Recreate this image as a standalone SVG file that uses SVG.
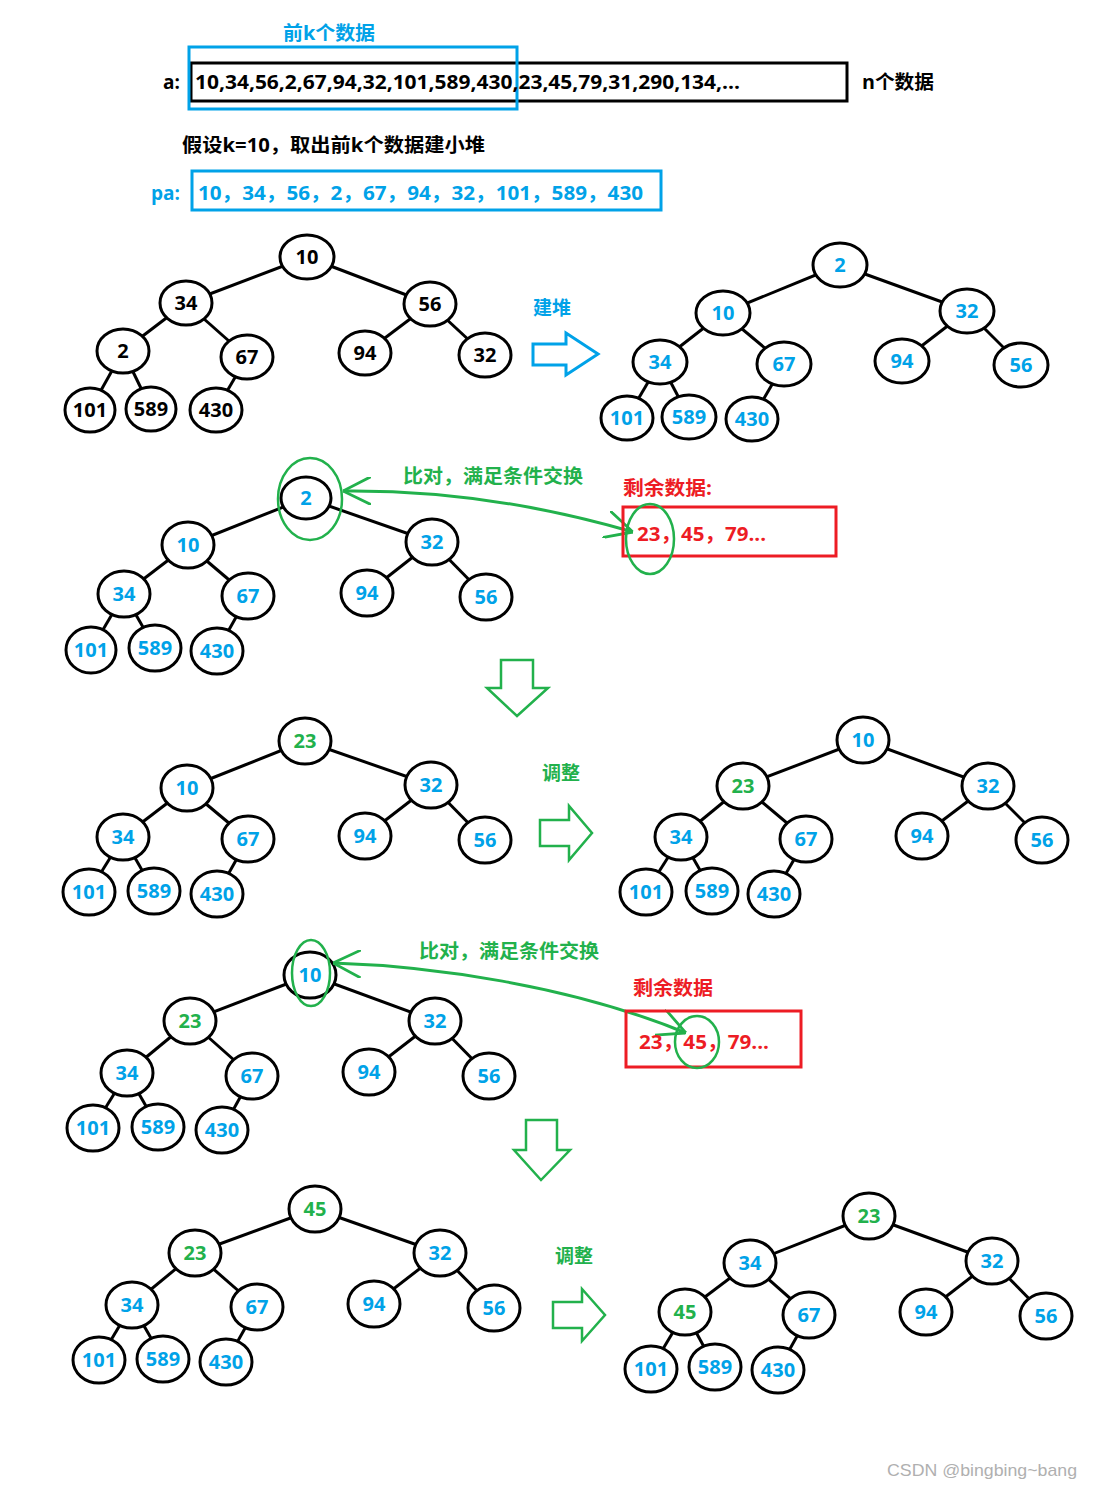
<svg xmlns="http://www.w3.org/2000/svg" width="1093" height="1489" viewBox="0 0 1093 1489">
<style>
text{font-family:"Open Sans","Noto Sans CJK SC",sans-serif;font-weight:bold}
.nd ellipse{fill:#fff;stroke:#000;stroke-width:3}
.nd text{font-size:20px;text-anchor:middle}
.k{fill:#000}.c{fill:#00A2E8}.g{fill:#22B14C}.r{fill:#ED1C24}
.edges line{stroke:#000;stroke-width:3}
.t19{font-size:19px}
.sel{fill:none;stroke:#22B14C;stroke-width:2.5}
.curve{fill:none;stroke:#22B14C;stroke-width:3;marker-start:url(#ah);marker-end:url(#ah)}
</style>
<defs>
<marker id="ah" viewBox="0 0 10 10" refX="10" refY="5" markerWidth="28" markerHeight="28" markerUnits="userSpaceOnUse" orient="auto-start-reverse">
<path d="M0,0 L10,5 L0,10" fill="none" stroke="#22B14C" stroke-width="1"/>
</marker>
</defs>
<rect width="1093" height="1489" fill="#fff"/>

<g id="header">
<text x="283" y="40" class="t19 c" textLength="92" lengthAdjust="spacingAndGlyphs">前k个数据</text>
<rect x="191" y="63" width="656" height="38" fill="none" stroke="#000" stroke-width="3"/>
<rect x="189" y="47" width="328" height="62" fill="none" stroke="#00A2E8" stroke-width="3"/>
<text x="163" y="89" class="t19 k">a:</text>
<text x="195" y="89" class="k" font-size="20" textLength="545" lengthAdjust="spacingAndGlyphs">10,34,56,2,67,94,32,101,589,430,23,45,79,31,290,134,...</text>
<text x="862" y="89" class="t19 k" textLength="72" lengthAdjust="spacingAndGlyphs">n个数据</text>
<text x="182" y="152" class="t19 k" textLength="303" lengthAdjust="spacingAndGlyphs">假设k=10，取出前k个数据建小堆</text>
<text x="151" y="200" class="t19 c">pa:</text>
<rect x="192" y="171" width="469" height="39" fill="none" stroke="#00A2E8" stroke-width="3"/>
<text x="198" y="200" class="c" font-size="20" textLength="445" lengthAdjust="spacingAndGlyphs">10，34，56，2，67，94，32，101，589，430</text>
</g>

<g id="connectors" class="edges">
<line x1="307" y1="257" x2="186" y2="303"/><line x1="307" y1="257" x2="430" y2="304"/><line x1="186" y1="303" x2="123" y2="351"/><line x1="186" y1="303" x2="247" y2="357"/><line x1="430" y1="304" x2="365" y2="353"/><line x1="430" y1="304" x2="485" y2="355"/><line x1="123" y1="351" x2="90" y2="410"/><line x1="123" y1="351" x2="151" y2="409"/><line x1="247" y1="357" x2="216" y2="410"/>
<line x1="840" y1="265" x2="723" y2="313"/><line x1="840" y1="265" x2="967" y2="311"/><line x1="723" y1="313" x2="660" y2="362"/><line x1="723" y1="313" x2="784" y2="364"/><line x1="967" y1="311" x2="902" y2="361"/><line x1="967" y1="311" x2="1021" y2="365"/><line x1="660" y1="362" x2="627" y2="418"/><line x1="660" y1="362" x2="689" y2="417"/><line x1="784" y1="364" x2="752" y2="419"/>
<line x1="306" y1="498" x2="188" y2="545"/><line x1="306" y1="498" x2="432" y2="542"/><line x1="188" y1="545" x2="124" y2="594"/><line x1="188" y1="545" x2="248" y2="596"/><line x1="432" y1="542" x2="367" y2="593"/><line x1="432" y1="542" x2="486" y2="597"/><line x1="124" y1="594" x2="91" y2="650"/><line x1="124" y1="594" x2="155" y2="648"/><line x1="248" y1="596" x2="217" y2="651"/>
<line x1="305" y1="741" x2="187" y2="788"/><line x1="305" y1="741" x2="431" y2="785"/><line x1="187" y1="788" x2="123" y2="837"/><line x1="187" y1="788" x2="248" y2="839"/><line x1="431" y1="785" x2="365" y2="836"/><line x1="431" y1="785" x2="485" y2="840"/><line x1="123" y1="837" x2="89" y2="892"/><line x1="123" y1="837" x2="154" y2="891"/><line x1="248" y1="839" x2="217" y2="894"/>
<line x1="863" y1="740" x2="743" y2="786"/><line x1="863" y1="740" x2="988" y2="786"/><line x1="743" y1="786" x2="681" y2="837"/><line x1="743" y1="786" x2="806" y2="839"/><line x1="988" y1="786" x2="922" y2="836"/><line x1="988" y1="786" x2="1042" y2="840"/><line x1="681" y1="837" x2="646" y2="892"/><line x1="681" y1="837" x2="712" y2="891"/><line x1="806" y1="839" x2="774" y2="894"/>
<line x1="310" y1="975" x2="190" y2="1021"/><line x1="310" y1="975" x2="435" y2="1021"/><line x1="190" y1="1021" x2="127" y2="1073"/><line x1="190" y1="1021" x2="252" y2="1076"/><line x1="435" y1="1021" x2="369" y2="1072"/><line x1="435" y1="1021" x2="489" y2="1076"/><line x1="127" y1="1073" x2="93" y2="1128"/><line x1="127" y1="1073" x2="158" y2="1127"/><line x1="252" y1="1076" x2="222" y2="1130"/>
<line x1="315" y1="1209" x2="195" y2="1253"/><line x1="315" y1="1209" x2="440" y2="1253"/><line x1="195" y1="1253" x2="132" y2="1305"/><line x1="195" y1="1253" x2="257" y2="1307"/><line x1="440" y1="1253" x2="374" y2="1304"/><line x1="440" y1="1253" x2="494" y2="1308"/><line x1="132" y1="1305" x2="99" y2="1360"/><line x1="132" y1="1305" x2="163" y2="1359"/><line x1="257" y1="1307" x2="226" y2="1362"/>
<line x1="869" y1="1216" x2="750" y2="1263"/><line x1="869" y1="1216" x2="992" y2="1261"/><line x1="750" y1="1263" x2="685" y2="1312"/><line x1="750" y1="1263" x2="809" y2="1315"/><line x1="992" y1="1261" x2="926" y2="1312"/><line x1="992" y1="1261" x2="1046" y2="1316"/><line x1="685" y1="1312" x2="651" y2="1369"/><line x1="685" y1="1312" x2="715" y2="1367"/><line x1="809" y1="1315" x2="778" y2="1370"/>
</g>

<g id="tree1" class="nd">
<g id="t1-10"><ellipse cx="307" cy="257" rx="27" ry="22"/><text x="307" y="264" class="k">10</text></g>
<g id="t1-34"><ellipse cx="186" cy="303" rx="26" ry="22"/><text x="186" y="310" class="k">34</text></g>
<g id="t1-56"><ellipse cx="430" cy="304" rx="26" ry="22"/><text x="430" y="311" class="k">56</text></g>
<g id="t1-2"><ellipse cx="123" cy="351" rx="26" ry="22"/><text x="123" y="358" class="k">2</text></g>
<g id="t1-67"><ellipse cx="247" cy="357" rx="26" ry="22"/><text x="247" y="364" class="k">67</text></g>
<g id="t1-94"><ellipse cx="365" cy="353" rx="26" ry="22"/><text x="365" y="360" class="k">94</text></g>
<g id="t1-32"><ellipse cx="485" cy="355" rx="26" ry="22"/><text x="485" y="362" class="k">32</text></g>
<g id="t1-101"><ellipse cx="90" cy="410" rx="25" ry="22"/><text x="90" y="417" class="k">101</text></g>
<g id="t1-589"><ellipse cx="151" cy="409" rx="25" ry="22"/><text x="151" y="416" class="k">589</text></g>
<g id="t1-430"><ellipse cx="216" cy="410" rx="26" ry="22"/><text x="216" y="417" class="k">430</text></g>
</g>

<g id="build-arrow">
<text x="533" y="315" class="t19 c">建堆</text>
<polygon points="533,344 566,344 566,333 598,354 566,375 566,365 533,365" fill="none" stroke="#00A2E8" stroke-width="3"/>
</g>

<g id="tree2" class="nd">
<g id="t2-2"><ellipse cx="840" cy="265" rx="27" ry="22"/><text x="840" y="272" class="c">2</text></g>
<g id="t2-10"><ellipse cx="723" cy="313" rx="27" ry="22"/><text x="723" y="320" class="c">10</text></g>
<g id="t2-32"><ellipse cx="967" cy="311" rx="27" ry="22"/><text x="967" y="318" class="c">32</text></g>
<g id="t2-34"><ellipse cx="660" cy="362" rx="27" ry="22"/><text x="660" y="369" class="c">34</text></g>
<g id="t2-67"><ellipse cx="784" cy="364" rx="27" ry="22"/><text x="784" y="371" class="c">67</text></g>
<g id="t2-94"><ellipse cx="902" cy="361" rx="27" ry="22"/><text x="902" y="368" class="c">94</text></g>
<g id="t2-56"><ellipse cx="1021" cy="365" rx="27" ry="22"/><text x="1021" y="372" class="c">56</text></g>
<g id="t2-101"><ellipse cx="627" cy="418" rx="26" ry="22"/><text x="627" y="425" class="c">101</text></g>
<g id="t2-589"><ellipse cx="689" cy="417" rx="27" ry="22"/><text x="689" y="424" class="c">589</text></g>
<g id="t2-430"><ellipse cx="752" cy="419" rx="26" ry="22"/><text x="752" y="426" class="c">430</text></g>
</g>

<g id="tree3" class="nd">
<g id="t3-2"><ellipse cx="306" cy="498" rx="25" ry="21"/><text x="306" y="505" class="c">2</text></g>
<g id="t3-10"><ellipse cx="188" cy="545" rx="26" ry="23"/><text x="188" y="552" class="c">10</text></g>
<g id="t3-32"><ellipse cx="432" cy="542" rx="26" ry="23"/><text x="432" y="549" class="c">32</text></g>
<g id="t3-34"><ellipse cx="124" cy="594" rx="26" ry="23"/><text x="124" y="601" class="c">34</text></g>
<g id="t3-67"><ellipse cx="248" cy="596" rx="26" ry="23"/><text x="248" y="603" class="c">67</text></g>
<g id="t3-94"><ellipse cx="367" cy="593" rx="26" ry="23"/><text x="367" y="600" class="c">94</text></g>
<g id="t3-56"><ellipse cx="486" cy="597" rx="26" ry="23"/><text x="486" y="604" class="c">56</text></g>
<g id="t3-101"><ellipse cx="91" cy="650" rx="25" ry="23"/><text x="91" y="657" class="c">101</text></g>
<g id="t3-589"><ellipse cx="155" cy="648" rx="26" ry="23"/><text x="155" y="655" class="c">589</text></g>
<g id="t3-430"><ellipse cx="217" cy="651" rx="26" ry="23"/><text x="217" y="658" class="c">430</text></g>
</g>

<g id="compare1">
<ellipse cx="310" cy="499" rx="32" ry="41" class="sel"/>
<text x="403" y="483" class="t19 g" textLength="180" lengthAdjust="spacingAndGlyphs">比对，满足条件交换</text>
<path d="M343,491 C430,490 530,502 633,532" class="curve"/>
<text x="623" y="495" class="t19 r" textLength="89" lengthAdjust="spacingAndGlyphs">剩余数据:</text>
<rect x="623" y="507" width="213" height="49" fill="none" stroke="#ED1C24" stroke-width="3"/>
<text x="637" y="541" class="r" font-size="20" textLength="129" lengthAdjust="spacingAndGlyphs">23，45，79...</text>
<ellipse cx="650" cy="539" rx="24" ry="35" class="sel"/>
<polygon points="501,660 533,660 533,688 548,688 517,716 487,688 501,688" fill="none" stroke="#22B14C" stroke-width="2.5"/>
</g>

<g id="tree4" class="nd">
<g id="t4-23"><ellipse cx="305" cy="741" rx="26" ry="23"/><text x="305" y="748" class="g">23</text></g>
<g id="t4-10"><ellipse cx="187" cy="788" rx="26" ry="23"/><text x="187" y="795" class="c">10</text></g>
<g id="t4-32"><ellipse cx="431" cy="785" rx="26" ry="23"/><text x="431" y="792" class="c">32</text></g>
<g id="t4-34"><ellipse cx="123" cy="837" rx="26" ry="23"/><text x="123" y="844" class="c">34</text></g>
<g id="t4-67"><ellipse cx="248" cy="839" rx="26" ry="23"/><text x="248" y="846" class="c">67</text></g>
<g id="t4-94"><ellipse cx="365" cy="836" rx="26" ry="23"/><text x="365" y="843" class="c">94</text></g>
<g id="t4-56"><ellipse cx="485" cy="840" rx="26" ry="23"/><text x="485" y="847" class="c">56</text></g>
<g id="t4-101"><ellipse cx="89" cy="892" rx="26" ry="23"/><text x="89" y="899" class="c">101</text></g>
<g id="t4-589"><ellipse cx="154" cy="891" rx="26" ry="23"/><text x="154" y="898" class="c">589</text></g>
<g id="t4-430"><ellipse cx="217" cy="894" rx="26" ry="23"/><text x="217" y="901" class="c">430</text></g>
</g>

<g id="adjust1">
<text x="542" y="780" class="t19 g">调整</text>
<polygon points="540,820 569,820 569,806 592,833 569,860 569,846 540,846" fill="none" stroke="#22B14C" stroke-width="2.5"/>
</g>

<g id="tree5" class="nd">
<g id="t5-10"><ellipse cx="863" cy="740" rx="26" ry="23"/><text x="863" y="747" class="c">10</text></g>
<g id="t5-23"><ellipse cx="743" cy="786" rx="26" ry="23"/><text x="743" y="793" class="g">23</text></g>
<g id="t5-32"><ellipse cx="988" cy="786" rx="26" ry="23"/><text x="988" y="793" class="c">32</text></g>
<g id="t5-34"><ellipse cx="681" cy="837" rx="26" ry="23"/><text x="681" y="844" class="c">34</text></g>
<g id="t5-67"><ellipse cx="806" cy="839" rx="26" ry="23"/><text x="806" y="846" class="c">67</text></g>
<g id="t5-94"><ellipse cx="922" cy="836" rx="26" ry="23"/><text x="922" y="843" class="c">94</text></g>
<g id="t5-56"><ellipse cx="1042" cy="840" rx="26" ry="23"/><text x="1042" y="847" class="c">56</text></g>
<g id="t5-101"><ellipse cx="646" cy="892" rx="26" ry="23"/><text x="646" y="899" class="c">101</text></g>
<g id="t5-589"><ellipse cx="712" cy="891" rx="26" ry="23"/><text x="712" y="898" class="c">589</text></g>
<g id="t5-430"><ellipse cx="774" cy="894" rx="26" ry="23"/><text x="774" y="901" class="c">430</text></g>
</g>

<g id="tree6" class="nd">
<g id="t6-10"><ellipse cx="310" cy="975" rx="26" ry="23"/><text x="310" y="982" class="c">10</text></g>
<g id="t6-23"><ellipse cx="190" cy="1021" rx="26" ry="23"/><text x="190" y="1028" class="g">23</text></g>
<g id="t6-32"><ellipse cx="435" cy="1021" rx="26" ry="23"/><text x="435" y="1028" class="c">32</text></g>
<g id="t6-34"><ellipse cx="127" cy="1073" rx="26" ry="23"/><text x="127" y="1080" class="c">34</text></g>
<g id="t6-67"><ellipse cx="252" cy="1076" rx="26" ry="23"/><text x="252" y="1083" class="c">67</text></g>
<g id="t6-94"><ellipse cx="369" cy="1072" rx="26" ry="23"/><text x="369" y="1079" class="c">94</text></g>
<g id="t6-56"><ellipse cx="489" cy="1076" rx="26" ry="23"/><text x="489" y="1083" class="c">56</text></g>
<g id="t6-101"><ellipse cx="93" cy="1128" rx="26" ry="23"/><text x="93" y="1135" class="c">101</text></g>
<g id="t6-589"><ellipse cx="158" cy="1127" rx="26" ry="23"/><text x="158" y="1134" class="c">589</text></g>
<g id="t6-430"><ellipse cx="222" cy="1130" rx="26" ry="23"/><text x="222" y="1137" class="c">430</text></g>
</g>

<g id="compare2">
<ellipse cx="311" cy="973" rx="19" ry="33" class="sel"/>
<text x="419" y="958" class="t19 g" textLength="180" lengthAdjust="spacingAndGlyphs">比对，满足条件交换</text>
<path d="M333,963 C430,966 570,985 686,1033" class="curve"/>
<text x="633" y="995" class="t19 r" textLength="80" lengthAdjust="spacingAndGlyphs">剩余数据</text>
<rect x="626" y="1011" width="175" height="56" fill="none" stroke="#ED1C24" stroke-width="3"/>
<text x="639" y="1049" class="r" font-size="20" textLength="130" lengthAdjust="spacingAndGlyphs">23，45，79...</text>
<ellipse cx="697" cy="1042" rx="22" ry="26" class="sel"/>
<polygon points="526,1120 557,1120 557,1150 570,1150 541,1180 514,1150 526,1150" fill="none" stroke="#22B14C" stroke-width="2.5"/>
</g>

<g id="tree7" class="nd">
<g id="t7-45"><ellipse cx="315" cy="1209" rx="26" ry="23"/><text x="315" y="1216" class="g">45</text></g>
<g id="t7-23"><ellipse cx="195" cy="1253" rx="26" ry="23"/><text x="195" y="1260" class="g">23</text></g>
<g id="t7-32"><ellipse cx="440" cy="1253" rx="26" ry="23"/><text x="440" y="1260" class="c">32</text></g>
<g id="t7-34"><ellipse cx="132" cy="1305" rx="26" ry="23"/><text x="132" y="1312" class="c">34</text></g>
<g id="t7-67"><ellipse cx="257" cy="1307" rx="26" ry="23"/><text x="257" y="1314" class="c">67</text></g>
<g id="t7-94"><ellipse cx="374" cy="1304" rx="26" ry="23"/><text x="374" y="1311" class="c">94</text></g>
<g id="t7-56"><ellipse cx="494" cy="1308" rx="26" ry="23"/><text x="494" y="1315" class="c">56</text></g>
<g id="t7-101"><ellipse cx="99" cy="1360" rx="26" ry="23"/><text x="99" y="1367" class="c">101</text></g>
<g id="t7-589"><ellipse cx="163" cy="1359" rx="26" ry="23"/><text x="163" y="1366" class="c">589</text></g>
<g id="t7-430"><ellipse cx="226" cy="1362" rx="26" ry="23"/><text x="226" y="1369" class="c">430</text></g>
</g>

<g id="adjust2">
<text x="555" y="1263" class="t19 g">调整</text>
<polygon points="553,1302 582,1302 582,1289 605,1315 582,1341 582,1328 553,1328" fill="none" stroke="#22B14C" stroke-width="2.5"/>
</g>

<g id="tree8" class="nd">
<g id="t8-23"><ellipse cx="869" cy="1216" rx="26" ry="23"/><text x="869" y="1223" class="g">23</text></g>
<g id="t8-34"><ellipse cx="750" cy="1263" rx="26" ry="23"/><text x="750" y="1270" class="c">34</text></g>
<g id="t8-32"><ellipse cx="992" cy="1261" rx="26" ry="23"/><text x="992" y="1268" class="c">32</text></g>
<g id="t8-45"><ellipse cx="685" cy="1312" rx="26" ry="23"/><text x="685" y="1319" class="g">45</text></g>
<g id="t8-67"><ellipse cx="809" cy="1315" rx="26" ry="23"/><text x="809" y="1322" class="c">67</text></g>
<g id="t8-94"><ellipse cx="926" cy="1312" rx="26" ry="23"/><text x="926" y="1319" class="c">94</text></g>
<g id="t8-56"><ellipse cx="1046" cy="1316" rx="26" ry="23"/><text x="1046" y="1323" class="c">56</text></g>
<g id="t8-101"><ellipse cx="651" cy="1369" rx="26" ry="23"/><text x="651" y="1376" class="c">101</text></g>
<g id="t8-589"><ellipse cx="715" cy="1367" rx="26" ry="23"/><text x="715" y="1374" class="c">589</text></g>
<g id="t8-430"><ellipse cx="778" cy="1370" rx="26" ry="23"/><text x="778" y="1377" class="c">430</text></g>
</g>

<text x="887" y="1476" font-size="17" fill="#B0B0B0" textLength="190" lengthAdjust="spacingAndGlyphs" style="font-family:'Liberation Sans','Noto Sans',sans-serif;font-weight:normal">CSDN @bingbing~bang</text>
</svg>
